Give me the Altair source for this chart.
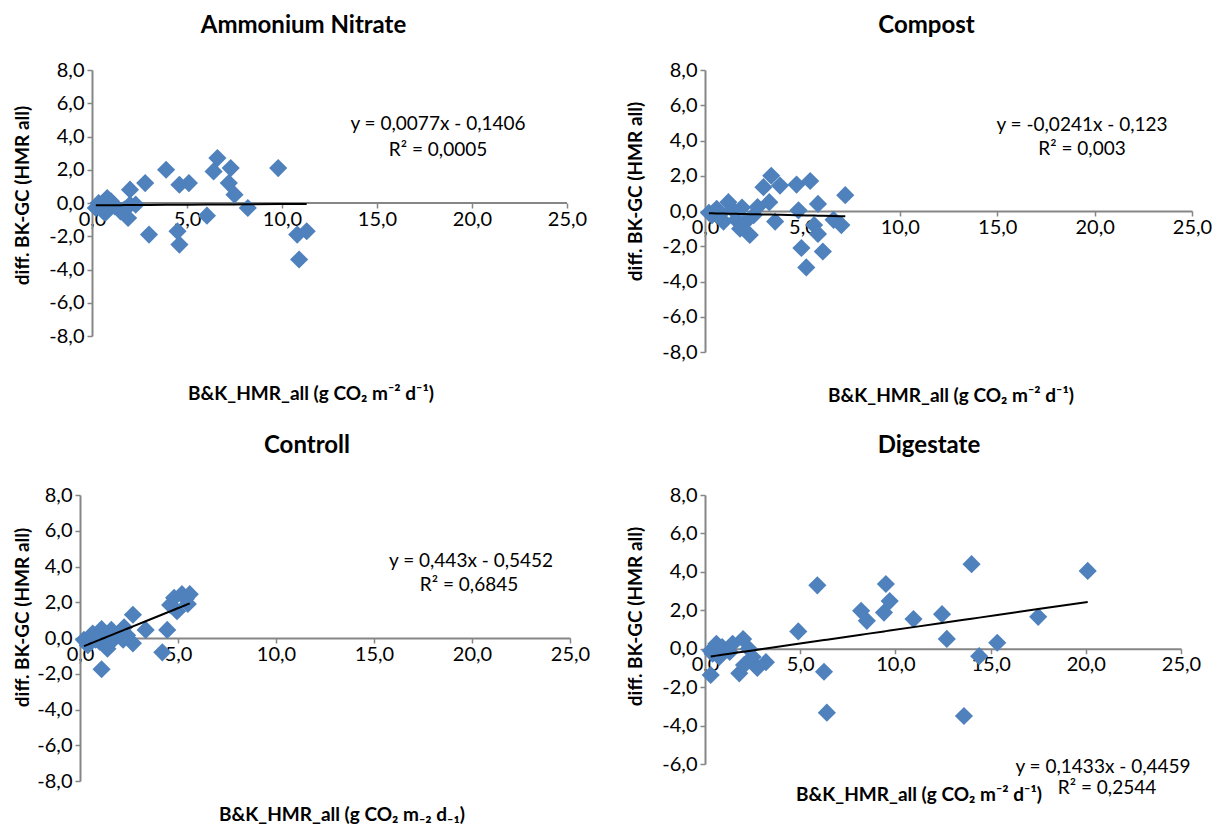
import altair as alt
import pandas as pd

FONT = "Lato"
BLUE = "#4F81BD"
GRAY = "#868686"

# ---------------- data ----------------
panel_titles = ["Ammonium Nitrate", "Compost", "Controll", "Digestate"]
y_title = "diff. BK-GC (HMR all)"
x_titles = [
    "B&K_HMR_all  (g CO\u2082 m\u207b\u00b2 d\u207b\u00b9)",
    "B&K_HMR_all  (g CO\u2082 m\u207b\u00b2 d\u207b\u00b9)",
    "B&K_HMR_all  (g CO\u2082 m\u208b\u2082 d\u208b\u2081)",
    "B&K_HMR_all  (g CO\u2082 m\u207b\u00b2 d\u207b\u00b9)",
]
equations = ["y = 0,0077x - 0,1406", "y = -0,0241x - 0,123", "y = 0,443x - 0,5452", "y = 0,1433x - 0,4459"]
r2_texts = ["R\u00b2 = 0,0005", "R\u00b2 = 0,003", "R\u00b2 = 0,6845", "R\u00b2 = 0,2544"]
slopes = [0.0077, -0.0241, 0.443, 0.1433]
intercepts = [-0.1406, -0.123, -0.5452, -0.4459]

an_x = [0.35, 0.8, 0.6, 0.45, 1.5, 1.9, 2.0, 2.0, 2.3, 2.8, 3.0, 3.9, 4.6, 4.6, 4.5, 5.1, 6.05,
        6.6, 6.4, 7.3, 7.2, 7.5, 8.2, 9.8, 10.8, 11.3, 10.9, 0.2, 0.7, 1.2, 1.7, 1.0]
an_y = [0.0, 0.3, -0.5, -0.3, -0.5, -0.9, 0.8, -0.1, -0.1, 1.2, -1.9, 2.0, 1.1, -2.5, -1.7, 1.2, -0.76,
        2.7, 1.9, 2.1, 1.2, 0.5, -0.3, 2.1, -1.9, -1.7, -3.4, -0.3, -0.6, -0.2, -0.4, 0.1]

co_x = [0.36, 0.6, 0.95, 1.2, 0.8, 1.6, 1.9, 1.8, 2.3, 2.5, 2.7, 3.0, 3.4, 3.3, 3.85, 3.6, 4.7, 4.8,
        4.95, 5.2, 5.4, 5.6, 5.8, 5.8, 6.05, 6.6, 7.0, 7.2, 0.2, 1.4, 2.1]
co_y = [-0.24, 0.13, -0.6, 0.5, -0.15, -0.5, 0.2, -1.0, -1.36, -0.24, 0.22, 1.35, 2.0, 0.5, 1.44, -0.6, 1.5, 0.04,
        -2.1, -3.2, 1.7, -0.8, 0.4, -1.3, -2.3, -0.5, -0.8, 0.9, -0.1, 0.1, -0.6]

ct_x = [0.3, 0.5, 0.65, 1.1, 1.0, 1.1, 1.3, 1.4, 1.6, 1.75, 2.0, 2.25, 2.7, 2.7, 2.4, 3.35, 4.2, 4.45,
        4.6, 4.8, 5.2, 5.6, 4.95, 5.5, 5.4, 0.4, 0.8, 1.5, 2.1, 2.2, 0.2]
ct_y = [-0.2, 0.06, 0.25, 0.5, -0.2, -1.75, 0.15, -0.6, 0.45, -0.04, 0.15, 0.6, 1.3, -0.3, 0.15, 0.45, -0.8, 0.45,
        1.85, 2.25, 2.45, 2.45, 1.5, 1.9, 2.2, -0.4, -0.1, -0.2, 0.4, -0.1, -0.1]

dg_x = [0.3, 0.6, 0.4, 0.75, 0.3, 0.9, 1.45, 2.0, 1.8, 2.05, 2.3, 2.5, 2.75, 3.2, 1.3, 4.9, 5.9, 6.25,
        6.4, 8.2, 8.5, 9.5, 9.4, 9.7, 10.95, 12.45, 12.7, 14.0, 14.4, 13.6, 15.35, 17.5, 20.1]
dg_y = [-0.1, 0.26, -0.26, -0.43, -1.37, 0.09, 0.26, 0.5, -1.28, -0.85, 0.0, -0.43, -1.0, -0.7, -0.17, 0.9, 3.3, -1.2,
        -3.33, 1.97, 1.45, 3.37, 1.88, 2.48, 1.54, 1.8, 0.51, 4.4, -0.39, -3.5, 0.31, 1.66, 4.05]

x_ticks = [0, 5, 10, 15, 20, 25]

# ---------------- layout (styles) ----------------
LBL = "(datum.value < 0 ? '-' : '') + replace(format(abs(datum.value), '.1f'), '.', ',')"

# shift: px the y axis sits right of the panel's left edge (used for the first panel only)
layout = [
    dict(w=487, shift=12, h=266, ymin=-8, tdx=-20, toff=3, eq=(358, 60), r2=(358, 86), xt=(231, 330), tp=16, ty=125),
    dict(w=487, shift=0, h=282, ymin=-8, tdx=-22, toff=3, eq=(377, 61), r2=(377, 85), xt=(246, 332), tp=16, ty=121),
    dict(w=490, shift=0, h=286, ymin=-8, tdx=-18, toff=8, eq=(391, 72), r2=(389, 96), xt=(262, 326), tp=4, ty=122),
    dict(w=476, shift=0, h=269, ymin=-6, tdx=-14, toff=8, eq=(398, 278), r2=(402, 299), xt=(214, 306), tp=16, ty=121),
]

series = [(an_x, an_y), (co_x, co_y), (ct_x, ct_y), (dg_x, dg_y)]


def panel(i):
    L = layout[i]
    xs, ys = series[i]
    df = pd.DataFrame({"x": xs, "y": ys})
    ymin, ymax = L["ymin"], 8
    y0 = L["h"] * ymax / (ymax - ymin)
    xmax = x_ticks[-1]
    xmin = -L["shift"] * xmax / (L["w"] - L["shift"])
    xscale = alt.Scale(domain=[xmin, xmax], nice=False, zero=False)
    yscale = alt.Scale(domain=[ymin, ymax], nice=False, zero=False)
    xaxis = alt.Axis(values=x_ticks, labelExpr=LBL, title=None, offset=-(L["h"] - y0),
                     grid=False, domain=L["shift"] == 0, domainColor=GRAY, domainWidth=2,
                     tickColor=GRAY, tickWidth=1.5,
                     tickSize=5, labelFont=FONT, labelFontSize=20, labelColor="black",
                     labelPadding=1, labelFlush=False, labelOverlap=False)
    yaxis = alt.Axis(values=list(range(ymin, ymax + 1, 2)), labelExpr=LBL, title=y_title,
                     offset=-L["shift"],
                     grid=False, domainColor=GRAY, domainWidth=2, tickColor=GRAY, tickWidth=1.5,
                     tickSize=5, labelFont=FONT, labelFontSize=20, labelColor="black", labelPadding=3,
                     titleFont=FONT, titleFontSize=19, titleFontWeight="bold", titleColor="black",
                     titlePadding=L["tp"], titleY=L["ty"])
    pts = alt.Chart(df).mark_point(shape="diamond", filled=True, size=330, color=BLUE, opacity=1,
                                   strokeWidth=0).encode(
        x=alt.X("x:Q", scale=xscale, axis=xaxis),
        y=alt.Y("y:Q", scale=yscale, axis=yaxis),
    )
    trend = alt.Chart(df).transform_calculate(
        fit=f"{slopes[i]} * datum.x + {intercepts[i]}"
    ).mark_line(color="black", strokeWidth=2).encode(
        x=alt.X("x:Q", scale=xscale, axis=xaxis),
        y=alt.Y("fit:Q", scale=yscale, axis=yaxis),
    )

    def txt(s, xy, bold=False):
        return alt.Chart(pd.DataFrame({"t": [s]})).mark_text(
            font=FONT, fontSize=19, fontWeight="bold" if bold else "normal",
            color="black", align="center", baseline="alphabetic"
        ).encode(text="t:N", x=alt.value(xy[0]), y=alt.value(xy[1]))

    layers = []
    if L["shift"]:
        axis_df = pd.DataFrame({"x": [0], "x2": [xmax], "y": [0]})
        layers.append(alt.Chart(axis_df).mark_rule(color=GRAY, strokeWidth=2).encode(
            x=alt.X("x:Q", scale=xscale, axis=xaxis), x2="x2:Q",
            y=alt.Y("y:Q", scale=yscale, axis=yaxis)))
    layers += [pts, trend,
               txt(equations[i], L["eq"]), txt(r2_texts[i], L["r2"]),
               txt(x_titles[i], L["xt"], bold=True)]

    layer = alt.layer(*layers).properties(
        width=L["w"], height=L["h"],
        title=alt.TitleParams(panel_titles[i], font=FONT, fontSize=24, fontWeight="bold",
                              color="black", anchor="middle", frame="group", offset=L["toff"],
                              dx=L["tdx"], baseline="alphabetic"),
    )
    return layer


p1, p2, p3, p4 = panel(0), panel(1), panel(2), panel(3)

chart = alt.concat(
    p1, p2, p3, p4, columns=2, spacing={"row": 143, "column": 135}, bounds="flush"
).properties(
    padding={"left": 13, "top": 14, "right": 0, "bottom": 0},
    background="white",
).configure_view(stroke=None)

chart.save("out.html", embed_options={"renderer": "svg", "actions": False})
